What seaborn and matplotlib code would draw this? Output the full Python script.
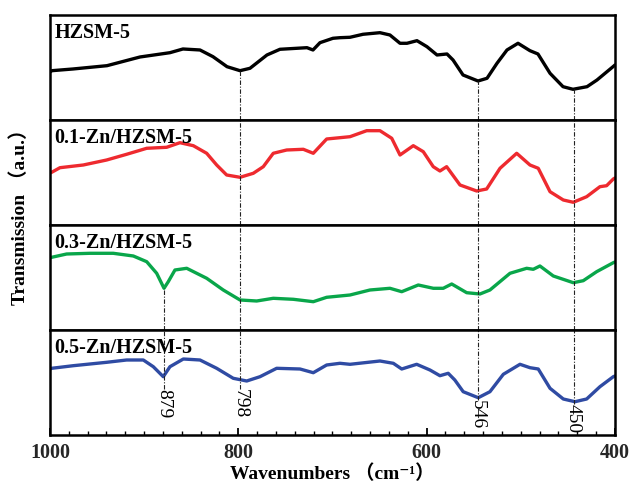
import numpy as np
import pandas as pd
import matplotlib
matplotlib.use("Agg")
import matplotlib.pyplot as plt
from matplotlib.ticker import MultipleLocator
import seaborn as sns

# ---------------- data ----------------
names = ["HZSM-5", "0.1-Zn/HZSM-5", "0.3-Zn/HZSM-5", "0.5-Zn/HZSM-5"]
colors = ["#000000", "#ee2a2f", "#09a64a", "#2f4ba3"]

wn_hzsm = [1000, 998, 975.6, 939.5, 904.4, 872.6, 858.8, 840.7, 826.9, 812, 798.2, 787.6,
           769.6, 755.8, 727.1, 720.7, 713.3, 699.5, 692, 681.4, 667.6, 649.6, 639, 628.3,
           620.9, 610.3, 599.7, 589, 578.4, 572, 561.4, 545.5, 535.9, 525.3, 514.7, 503,
           490.3, 481.8, 469, 455.2, 444.6, 429.7, 419.1, 408.5, 402.1, 400]
t_hzsm = [48, 49.3, 51, 54.3, 63, 67.3, 71, 70, 63.3, 53.3, 49.3, 51.7,
          65, 70.7, 72.3, 70, 77.3, 81.7, 82.3, 82.7, 85.7, 87.3, 85, 76.7,
          76.7, 79.3, 73.3, 65, 66, 60, 45, 39, 41.7, 56.7, 70, 76.7,
          69.3, 66, 46.7, 33.3, 30.7, 33.3, 40, 48.3, 53.3, 55]

wn_01 = [1000, 998.2, 989.4, 964.6, 939.8, 918.6, 897.3, 876.1, 862, 847.8, 833.6, 823,
         812.4, 798.2, 784.1, 773.5, 762.9, 748.6, 731, 720.4, 706.2, 692.1, 681.4, 663.7,
         649.6, 637.1, 628.3, 614.2, 603.6, 593, 585.9, 578.8, 564.6, 546.9, 536.3, 522.1,
         504.4, 490.3, 481.5, 469, 454.9, 444.3, 430.1, 416, 408.9, 401.8, 400]
t_01 = [52, 52.7, 57.3, 60, 65, 70.7, 76.7, 77.7, 82.3, 79.3, 71.7, 60,
        50, 47.7, 51.7, 58.3, 71.7, 75, 75.7, 71.7, 86, 87.3, 88.3, 94.3,
        94.3, 86.7, 70, 79.3, 73.3, 58.3, 54, 58.3, 40, 34, 36, 56.7,
        71.7, 60, 56.7, 33.3, 25, 22.7, 28.3, 38.3, 39.3, 46, 47]

wn_03 = [1000, 998.2, 982.3, 957.5, 932.8, 911.5, 897.3, 886.7, 878.9, 874.4, 867.3, 854.8,
         833.6, 816, 798.2, 780.5, 762.9, 741.6, 720.4, 706.2, 681.4, 660.2, 639, 626.5,
         608.9, 592.9, 582.4, 573.4, 557.5, 543.4, 532.8, 511.5, 493.8, 486.8, 479.7, 465.5,
         444.3, 433.7, 419.5, 401.8, 400]
t_03 = [72, 72.7, 76, 76.7, 76.7, 74, 68.3, 56.7, 41.7, 48.3, 60, 61.7,
        51.7, 40, 30, 29, 31.7, 30.7, 28.3, 32.7, 35, 40, 41.7, 38.3,
        45, 41.7, 41.7, 46, 37.3, 36, 40, 56.7, 61.7, 60.7, 64, 54,
        47.3, 49.3, 58.3, 67.3, 68]

wn_05 = [1000, 998.2, 975.3, 939.8, 918.6, 900.9, 890.3, 879.7, 872.6, 858.4, 840.7, 823,
         805.4, 791.1, 777, 759.3, 734.5, 720.4, 706.2, 692.1, 681.4, 649.6, 635.4, 626.5,
         610.6, 596.5, 585.9, 577.1, 570.1, 561.2, 545.2, 532.8, 518.6, 500.9, 490.3, 481.5,
         469, 454.9, 442.5, 430.1, 416, 401.8, 400]
t_05 = [66, 66.7, 69.3, 72.7, 75, 75, 68.3, 58.3, 68.3, 76, 75, 66.7,
        56.7, 54, 58.3, 66.7, 66, 62.3, 70, 71.7, 70.7, 74, 71.7, 66,
        70.7, 65, 59.3, 61.7, 55, 43.3, 37.3, 43.3, 60.7, 70.7, 67.3, 66,
        46.7, 36, 33.3, 36, 48.3, 58.3, 59]

series_wn = [wn_hzsm, wn_01, wn_03, wn_05]
series_t = [t_hzsm, t_01, t_03, t_05]

peak_pos = [879, 798, 546, 444]
peak_labels = ["879", "798", "546", "450"]
peak_start_panel = [2, 0, 0, 0]

x_ticks = [1000, 800, 600, 400]

# ---------------- plot ----------------
sns.set_theme(style="white")
plt.rcParams["font.family"] = ["Liberation Serif", "DejaVu Serif", "Noto Sans CJK SC"]
plt.rcParams["font.weight"] = "bold"

fig, axes = plt.subplots(4, 1, figsize=(6.32, 4.88), dpi=100, sharex=True)
fig.subplots_adjust(left=0.0791, right=0.9731, top=0.9693, bottom=0.1086, hspace=0)

YMAX = 105
dash = (0, (4, 1.5, 1, 1.5))

for i, ax in enumerate(axes):
    df = pd.DataFrame({"wn": series_wn[i], "t": series_t[i]})
    sns.lineplot(data=df, x="wn", y="t", color=colors[i], lw=2.4, ax=ax,
                 legend=False, sort=False, estimator=None)
    ax.set_xlim(1000, 400)
    ax.set_ylim(0, YMAX)
    ax.set_yticks([])
    ax.set_ylabel("")
    ax.set_xlabel("")
    for s in ax.spines.values():
        s.set_visible(True)
        s.set_color("black")
        s.set_linewidth(1.8)
    ax.text(0.008, 0.83, names[i], transform=ax.transAxes, fontsize=14.5,
            fontweight="bold", va="center", ha="left", color="black")
    if i < 3:
        ax.tick_params(axis="x", which="both", bottom=False, top=False,
                       labelbottom=False)

# dashed peak guide lines
for p, lab, sp in zip(peak_pos, peak_labels, peak_start_panel):
    for i in range(sp, 4):
        ax = axes[i]
        yv = np.interp(p, series_wn[i][::-1], series_t[i][::-1])
        if i == sp and i != 3:
            ax.vlines(p, 0, yv, colors="#222222", lw=0.8, linestyles=dash)
        elif i < 3:
            ax.vlines(p, 0, YMAX, colors="#222222", lw=0.8, linestyles=dash)
        else:
            ytxt = min(yv - 3, 46)
            ax.vlines(p, ytxt, YMAX, colors="#222222", lw=0.8, linestyles=dash)
            ax.text(p, ytxt, lab, rotation=270, ha="center", va="top",
                    fontsize=14, fontweight="normal", color="black")

axb = axes[-1]
axb.xaxis.set_major_locator(MultipleLocator(200))
axb.xaxis.set_minor_locator(MultipleLocator(20))
axb.set_xticks(x_ticks)
axb.set_xticklabels([str(v) for v in x_ticks])
axb.tick_params(axis="x", which="major", direction="in", length=5, width=1.3,
                bottom=True, top=False, labelsize=14.5, pad=6, color="black")
axb.tick_params(axis="x", which="minor", direction="in", length=3, width=1.0,
                bottom=True, top=False, color="black")
for t in axb.get_xticklabels():
    t.set_fontweight("bold")
axb.set_xlabel("Wavenumbers （cm⁻¹）", fontsize=14, fontweight="bold", labelpad=1,
               color="black")

fig.text(0.032, 0.566, "Transmission （a.u.）", rotation=90, ha="center", va="center",
         fontsize=14, fontweight="bold", color="black")

fig.savefig("out.png", dpi=100)
